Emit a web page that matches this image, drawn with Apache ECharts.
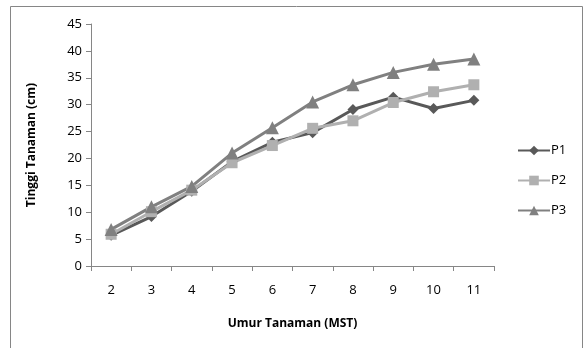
<!DOCTYPE html>
<html>
<head>
<meta charset="utf-8">
<script src="https://cdn.jsdelivr.net/npm/echarts@6/dist/echarts.min.js"></script>
<style>
  html, body { margin: 0; padding: 0; background: #fff; }
  #chart { width: 586px; height: 348px; }
</style>
</head>
<body>
<div id="chart"></div>
<script>
var weeks = ['2', '3', '4', '5', '6', '7', '8', '9', '10', '11'];
var p1 = [5.7, 9.2, 13.9, 19.4, 23.0, 24.8, 29.1, 31.4, 29.3, 30.8];
var p2 = [5.9, 10.1, 14.1, 19.2, 22.4, 25.6, 27.0, 30.4, 32.4, 33.7];
var p3 = [6.8, 11.0, 14.8, 21.0, 25.7, 30.5, 33.7, 36.0, 37.5, 38.5];

var fontName = 'Open Sans';
var chart = echarts.init(document.getElementById('chart'));

function line(name, data, color, symbol, size) {
	return {
		name: name,
		type: 'line',
		data: data,
		symbol: symbol,
		symbolSize: size,
		lineStyle: { color: color, width: 3 },
		itemStyle: { color: color },
		animation: false
	};
}

var option = {
	backgroundColor: '#fff',
	textStyle: { fontFamily: fontName },
	graphic: [{
		type: 'rect',
		shape: { x: 10.5, y: 6.5, width: 572, height: 360 },
		style: { fill: 'none', stroke: '#868686', lineWidth: 1 },
		silent: true
	}],
	grid: { left: 91, top: 24, width: 403, height: 242 },
	legend: {
		orient: 'vertical',
		left: 512,
		top: 139,
		itemWidth: 32,
		itemHeight: 12,
		itemGap: 17,
		textStyle: { fontSize: 13, color: '#000', fontFamily: fontName, padding: [0, 0, 0, -4] },
		data: ['P1', 'P2', 'P3']
	},
	xAxis: {
		type: 'category',
		data: weeks,
		boundaryGap: true,
		name: 'Umur Tanaman (MST)',
		nameLocation: 'middle',
		nameGap: 52,
		nameTextStyle: { fontSize: 12, fontWeight: 'bold', color: '#000', fontFamily: fontName },
		axisLine: { lineStyle: { color: '#868686' } },
		axisTick: { show: true, alignWithLabel: false, length: 5, lineStyle: { color: '#868686' } },
		axisLabel: { fontSize: 13, color: '#000', margin: 18 },
		splitLine: { show: false }
	},
	yAxis: {
		type: 'value',
		min: 0,
		max: 45,
		interval: 5,
		name: 'Tinggi Tanaman (cm)',
		nameLocation: 'middle',
		nameGap: 53,
		nameRotate: 90,
		nameTextStyle: { fontSize: 12, fontWeight: 'bold', color: '#000', fontFamily: fontName },
		axisLine: { show: true, lineStyle: { color: '#868686' } },
		axisTick: { show: true, length: 5, lineStyle: { color: '#868686' } },
		axisLabel: { fontSize: 13, color: '#000', margin: 9 },
		splitLine: { show: false }
	},
	series: [
		line('P1', p1, '#595959', 'diamond', 11),
		line('P2', p2, '#b0b0b0', 'rect', 11),
		line('P3', p3, '#808080', 'triangle', 13)
	]
};

chart.setOption(option);
</script>
</body>
</html>
